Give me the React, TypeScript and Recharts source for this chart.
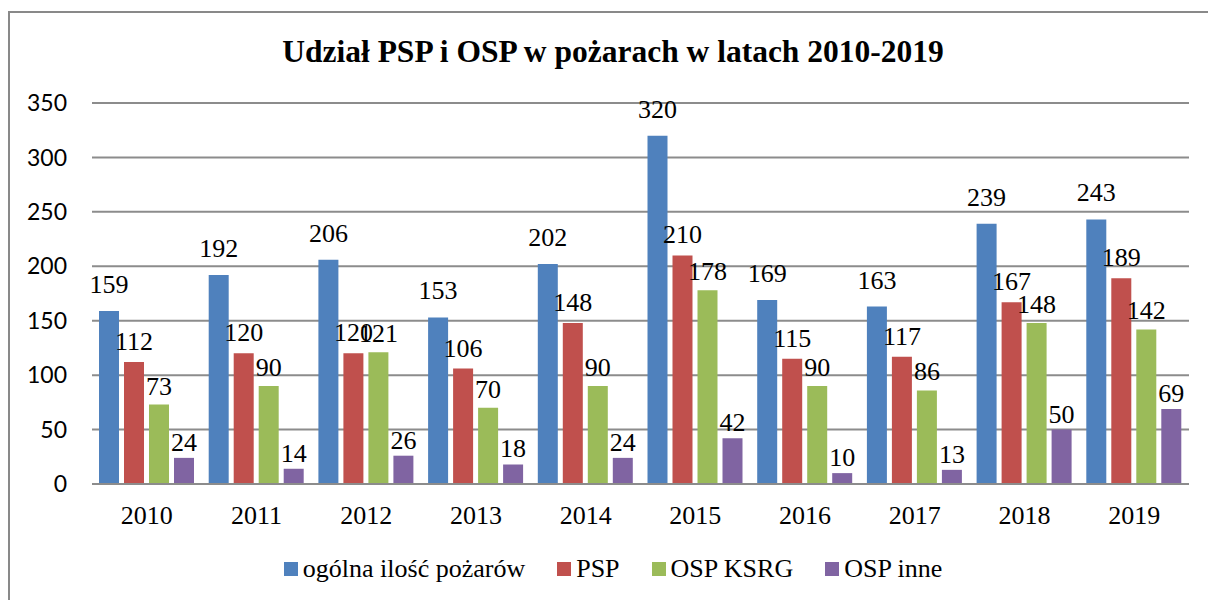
import React from 'react';
import { BarChart, Bar, XAxis, YAxis, CartesianGrid, LabelList, Legend } from 'recharts';

const years = ['2010', '2011', '2012', '2013', '2014', '2015', '2016', '2017', '2018', '2019'];
const ogolna = [159, 192, 206, 153, 202, 320, 169, 163, 239, 243];
const psp = [112, 120, 120, 106, 148, 210, 115, 117, 167, 189];
const ospKsrg = [73, 90, 121, 70, 90, 178, 90, 86, 148, 142];
const ospInne = [24, 14, 26, 18, 24, 42, 10, 13, 50, 69];
const yTicks = [0, 50, 100, 150, 200, 250, 300, 350];
const seriesNames = ['ogólna ilość pożarów', 'PSP', 'OSP KSRG', 'OSP inne'];
const seriesKeys = ['ogolna', 'psp', 'ospKsrg', 'ospInne'];
const colors = ['#4F81BD', '#C0504D', '#9BBB59', '#8064A2'];
const labelOffsets = [18, 12, 10, 7];
const title = 'Udział PSP i OSP w pożarach w latach 2010-2019';

const data = years.map((y, i) => ({
  year: y,
  ogolna: ogolna[i],
  psp: psp[i],
  ospKsrg: ospKsrg[i],
  ospInne: ospInne[i],
}));

const SERIF = "'Liberation Serif'";
const SANS = 'Lato';

const LegendContent = (props: any) => {
  const payload = [...(props.payload || [])].sort(
    (a: any, b: any) => seriesNames.indexOf(a.value) - seriesNames.indexOf(b.value)
  );
  return (
    <div style={{ display: 'flex', justifyContent: 'center', alignItems: 'center', fontFamily: SERIF, fontSize: 26, lineHeight: '26px', color: '#000' }}>
      {payload.map((p: any, i: number) => (
        <div key={i} style={{ display: 'flex', alignItems: 'center', marginRight: i < payload.length - 1 ? 32 : 0 }}>
          <div style={{ width: 14, height: 14, background: p.color, marginRight: 5 }} />
          <span style={{ fontFamily: SERIF }}>{p.value}</span>
        </div>
      ))}
    </div>
  );
};

export default function App() {
  return (
    <div style={{ position: 'fixed', left: 0, top: 0, width: 1208, height: 600, background: '#fff', overflow: 'hidden' }}>
      <div style={{ position: 'absolute', left: 8, top: 11, width: 1220, height: 620, border: '2px solid #898989', boxSizing: 'border-box' }} />
      <div style={{ position: 'absolute', left: 9, top: 34, width: 1208, textAlign: 'center', fontFamily: SERIF, fontWeight: 'bold', fontSize: 31.5, lineHeight: '36px', color: '#000' }}>
        {title}
      </div>
      <div style={{ position: 'absolute', left: 0, top: 0 }}>
        <BarChart
          width={1208}
          height={600}
          data={data}
          margin={{ top: 103, right: 19, bottom: 76, left: 0 }}
          barSize={20}
          barGap={5}
        >
          <CartesianGrid vertical={false} stroke="#8c8c8c" strokeWidth={2} />
          <XAxis
            dataKey="year"
            height={40}
            axisLine={{ stroke: '#8c8c8c', strokeWidth: 2 }}
            tickLine={false}
            tickSize={0}
            tickMargin={22}
            tick={{ fontFamily: 'Liberation Serif', fontSize: 26, fill: '#000' }}
          />
          <YAxis
            width={92}
            domain={[0, 350]}
            ticks={yTicks}
            axisLine={false}
            tickLine={false}
            tickSize={0}
            tickMargin={25}
            tick={{ fontFamily: SANS, fontSize: 23, fill: '#000' }}
          />
          <Legend
            layout="horizontal"
            verticalAlign="middle"
            align="center"
            wrapperStyle={{ top: 556, left: 9, width: 1208 }}
            content={<LegendContent />}
          />
          {seriesKeys.map((k, i) => (
            <Bar key={k} dataKey={k} name={seriesNames[i]} fill={colors[i]} isAnimationActive={false}>
              <LabelList
                dataKey={k}
                position="top"
                offset={labelOffsets[i]}
                fill="#000"
                fontFamily="Liberation Serif"
                fontSize={26}
              />
            </Bar>
          ))}
        </BarChart>
      </div>
    </div>
  );
}
